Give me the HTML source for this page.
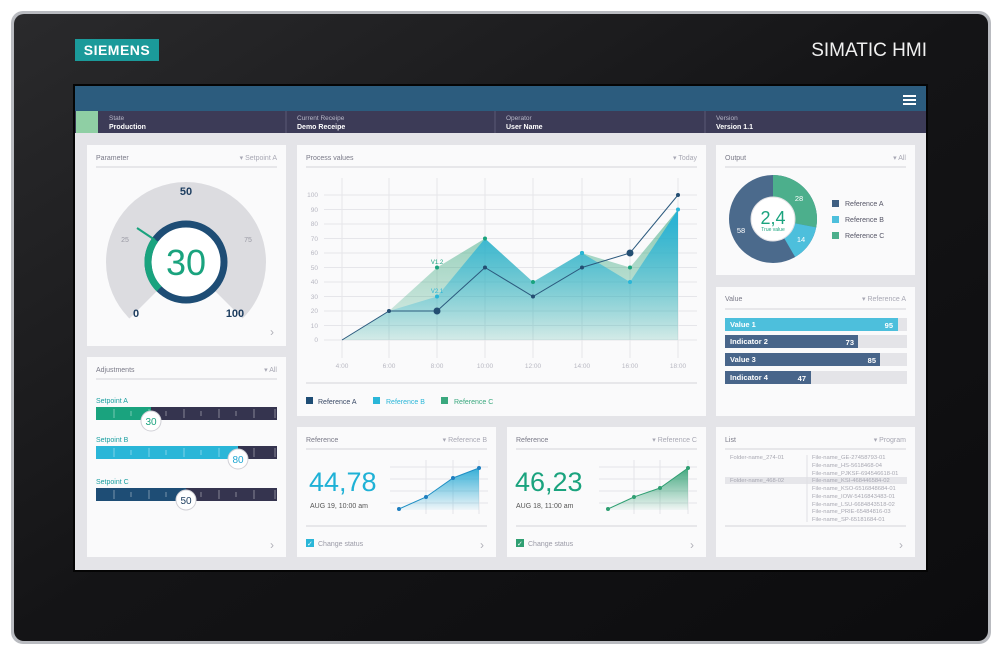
<!DOCTYPE html>
<html><head><meta charset="utf-8"><style>
html,body{margin:0;padding:0;background:#fff;width:1000px;height:656px;overflow:hidden}
svg{display:block;font-family:"Liberation Sans",sans-serif}
</style></head><body>
<svg width="1000" height="656" viewBox="0 0 1000 656" xmlns="http://www.w3.org/2000/svg">
<defs>
<linearGradient id="bez" x1="0" y1="0" x2="1" y2="1">
<stop offset="0" stop-color="#2a2a2c"/><stop offset="0.5" stop-color="#141416"/><stop offset="1" stop-color="#0c0c0e"/></linearGradient>
<linearGradient id="gB" x1="0" y1="0" x2="0" y2="1"><stop offset="0" stop-color="#1fb0d8" stop-opacity="0.95"/><stop offset="1" stop-color="#1fb0d8" stop-opacity="0.05"/></linearGradient>
<linearGradient id="gC" x1="0" y1="0" x2="0" y2="1"><stop offset="0" stop-color="#3aa87e" stop-opacity="0.6"/><stop offset="1" stop-color="#3aa87e" stop-opacity="0.15"/></linearGradient>
<linearGradient id="mB" x1="0" y1="0" x2="0" y2="1"><stop offset="0" stop-color="#1fa6d2" stop-opacity="0.9"/><stop offset="1" stop-color="#1fa6d2" stop-opacity="0.05"/></linearGradient>
<linearGradient id="mC" x1="0" y1="0" x2="0" y2="1"><stop offset="0" stop-color="#2f9f72" stop-opacity="0.9"/><stop offset="1" stop-color="#2f9f72" stop-opacity="0.05"/></linearGradient>
</defs>
<rect x="11" y="11" width="980" height="633" rx="12" fill="#b9bbc0"/>
<rect x="14" y="14" width="974" height="627" rx="10" fill="url(#bez)"/>
<rect x="73" y="84" width="855" height="488" fill="#050505"/>
<rect x="75" y="39" width="84" height="22" fill="#1b9a9a"/>
<text x="117" y="55" text-anchor="middle" fill="#fff" font-size="14" font-weight="bold" letter-spacing="0.5">SIEMENS</text>
<text x="927" y="56" text-anchor="end" fill="#f0f0f0" font-size="19">SIMATIC HMI</text>
<rect x="75" y="86" width="851" height="484" fill="#e4e4e8"/>
<rect x="75" y="86" width="851" height="25" fill="#2c5c7e"/>
<g fill="#fff"><rect x="903" y="95" width="13" height="2"/><rect x="903" y="99" width="13" height="2"/><rect x="903" y="103" width="13" height="2"/></g>
<rect x="75" y="111" width="851" height="22" fill="#3c3b57"/>
<rect x="76" y="111" width="22" height="22" fill="#8fcfa4"/>
<g stroke="#5a5a75" stroke-width="1"><line x1="286" y1="111" x2="286" y2="133"/><line x1="495" y1="111" x2="495" y2="133"/><line x1="705" y1="111" x2="705" y2="133"/></g>
<g font-size="6.5" fill="#b8b8c8"><text x="109" y="120">State</text><text x="297" y="120">Current Receipe</text><text x="506" y="120">Operator</text><text x="716" y="120">Version</text></g>
<g font-size="7" fill="#fff" font-weight="bold"><text x="109" y="129">Production</text><text x="297" y="129">Demo Receipe</text><text x="506" y="129">User Name</text><text x="716" y="129">Version 1.1</text></g>
<g fill="#fafafb">
<rect x="87" y="145" width="199" height="201"/>
<rect x="87" y="357" width="199" height="200"/>
<rect x="297" y="145" width="409" height="271"/>
<rect x="297" y="427" width="199" height="130"/>
<rect x="507" y="427" width="199" height="130"/>
<rect x="716" y="145" width="199" height="130"/>
<rect x="716" y="287" width="199" height="129"/>
<rect x="716" y="427" width="199" height="130"/>
</g>
<g stroke="#d4d4da" stroke-width="1">
<line x1="96" y1="167" x2="277" y2="167"/><line x1="96" y1="379" x2="277" y2="379"/>
<line x1="306" y1="167" x2="697" y2="167"/><line x1="306" y1="383" x2="697" y2="383"/>
<line x1="306" y1="449" x2="487" y2="449"/><line x1="306" y1="526" x2="487" y2="526"/>
<line x1="516" y1="449" x2="697" y2="449"/><line x1="516" y1="526" x2="697" y2="526"/>
<line x1="725" y1="167" x2="906" y2="167"/><line x1="725" y1="309" x2="906" y2="309"/>
<line x1="725" y1="449" x2="906" y2="449"/><line x1="725" y1="526" x2="906" y2="526"/>
</g>
<g font-size="7" fill="#7a7a88">
<text x="96" y="160">Parameter</text><text x="96" y="372">Adjustments</text><text x="306" y="160">Process values</text>
<text x="306" y="442">Reference</text><text x="516" y="442">Reference</text>
<text x="725" y="160">Output</text><text x="725" y="301">Value</text><text x="725" y="442">List</text>
</g>
<g font-size="7" fill="#a8a8b4" text-anchor="end">
<text x="277" y="160">▾ Setpoint A</text><text x="277" y="372">▾ All</text><text x="697" y="160">▾ Today</text>
<text x="487" y="442">▾ Reference B</text><text x="697" y="442">▾ Reference C</text>
<text x="906" y="160">▾ All</text><text x="906" y="301">▾ Reference A</text><text x="906" y="442">▾ Program</text>
</g>
<g font-size="12" fill="#b0b0b8"><text x="270" y="336">›</text><text x="270" y="549">›</text><text x="480" y="549">›</text><text x="690" y="549">›</text><text x="899" y="549">›</text></g>
<path d="M143.6,304.4 A60,60 0 1 1 228.4,304.4" fill="none" stroke="#dcdce0" stroke-width="40"/>
<circle cx="186" cy="262" r="38" fill="#fff" stroke="#1e4d75" stroke-width="7"/>
<path d="M159.1,288.9 A38,38 0 0 1 155.3,239.7" fill="none" stroke="#1aa37e" stroke-width="7"/>
<line x1="155" y1="240" x2="137" y2="228" stroke="#1aa37e" stroke-width="2"/>
<text x="186" y="275" text-anchor="middle" font-size="36" fill="#1aa37e">30</text>
<g font-weight="bold" fill="#1e3e60" font-size="11" text-anchor="middle"><text x="186" y="195">50</text><text x="136" y="317">0</text><text x="235" y="317">100</text></g>
<g fill="#9a9aa4" font-size="7" text-anchor="middle"><text x="125" y="242">25</text><text x="248" y="242">75</text></g>
<g font-size="7" fill="#1a9fa0"><text x="96" y="403">Setpoint A</text><text x="96" y="442">Setpoint B</text><text x="96" y="484">Setpoint C</text></g>
<rect x="96" y="407" width="181" height="13" fill="#35344f"/><rect x="96" y="407" width="55" height="13" fill="#1aa37e"/>
<rect x="96" y="446" width="181" height="13" fill="#35344f"/><rect x="96" y="446" width="142" height="13" fill="#2ab6d8"/>
<rect x="96" y="488" width="181" height="13" fill="#35344f"/><rect x="96" y="488" width="90" height="13" fill="#1e4d75"/>
<g stroke="#ffffff" stroke-opacity="0.5" stroke-width="0.8">
<path d="M114,409v9M131,411v5M149,409v9M166,411v5M184,409v9M201,411v5M219,409v9M236,411v5M254,409v9M275,409v9"/>
<path d="M114,448v9M131,450v5M149,448v9M166,450v5M184,448v9M201,450v5M219,448v9M236,450v5M254,448v9M275,448v9"/>
<path d="M114,490v9M131,492v5M149,490v9M166,492v5M184,490v9M201,492v5M219,490v9M236,492v5M254,490v9M275,490v9"/>
</g>
<g fill="#fff" stroke="#d0d0d6"><circle cx="151" cy="421" r="10"/><circle cx="238" cy="459" r="10"/><circle cx="186" cy="500" r="10"/></g>
<g font-size="10" text-anchor="middle"><text x="151" y="425" fill="#1aa37e">30</text><text x="238" y="463" fill="#1fa6d2">80</text><text x="186" y="504" fill="#1e3e60">50</text></g>
<g stroke="#e6e6ea" stroke-width="1">
<line x1="324" y1="195" x2="697" y2="195"/><line x1="324" y1="209.5" x2="697" y2="209.5"/><line x1="324" y1="224" x2="697" y2="224"/><line x1="324" y1="238.5" x2="697" y2="238.5"/><line x1="324" y1="253" x2="697" y2="253"/><line x1="324" y1="267.5" x2="697" y2="267.5"/><line x1="324" y1="282" x2="697" y2="282"/><line x1="324" y1="296.5" x2="697" y2="296.5"/><line x1="324" y1="311" x2="697" y2="311"/><line x1="324" y1="325.5" x2="697" y2="325.5"/><line x1="324" y1="340" x2="697" y2="340"/>
<line x1="342" y1="178" x2="342" y2="358"/><line x1="389" y1="178" x2="389" y2="358"/><line x1="437" y1="178" x2="437" y2="358"/><line x1="485" y1="178" x2="485" y2="358"/><line x1="533" y1="178" x2="533" y2="358"/><line x1="582" y1="178" x2="582" y2="358"/><line x1="630" y1="178" x2="630" y2="358"/><line x1="678" y1="178" x2="678" y2="358"/>
</g>
<g font-size="6.5" fill="#b8b8c2" text-anchor="end">
<text x="318" y="197">100</text><text x="318" y="212">90</text><text x="318" y="226">80</text><text x="318" y="241">70</text><text x="318" y="255">60</text><text x="318" y="270">50</text><text x="318" y="284">40</text><text x="318" y="299">30</text><text x="318" y="313">20</text><text x="318" y="328">10</text><text x="318" y="342">0</text></g>
<g font-size="6.5" fill="#b8b8c2" text-anchor="middle"><text x="342" y="368">4:00</text><text x="389" y="368">6:00</text><text x="437" y="368">8:00</text><text x="485" y="368">10:00</text><text x="533" y="368">12:00</text><text x="582" y="368">14:00</text><text x="630" y="368">16:00</text><text x="678" y="368">18:00</text></g>
<path d="M342,340 L389,311 L437,267.5 L485,238.5 L533,282 L582,253 L630,267.5 L678,209.5 L678,340 Z" fill="url(#gC)"/>
<path d="M342,340 L389,311 L437,296.5 L485,238.5 L533,282 L582,253 L630,282 L678,209.5 L678,340 Z" fill="url(#gB)"/>
<polyline points="342,340 389,311 437,311 485,267.5 533,296.5 582,267.5 630,253 678,195" fill="none" stroke="#2c5a7e" stroke-width="1"/>
<g fill="#1aa37e"><circle cx="437" cy="267.5" r="2"/><circle cx="485" cy="238.5" r="2"/><circle cx="533" cy="282" r="2"/><circle cx="582" cy="253" r="2"/><circle cx="630" cy="267.5" r="2"/></g>
<g fill="#2ab6d8"><circle cx="437" cy="296.5" r="2"/><circle cx="582" cy="253" r="2"/><circle cx="630" cy="282" r="2"/><circle cx="678" cy="209.5" r="2"/></g>
<g fill="#244e72"><circle cx="389" cy="311" r="2"/><circle cx="437" cy="311" r="3.5"/><circle cx="485" cy="267.5" r="2"/><circle cx="533" cy="296.5" r="2"/><circle cx="582" cy="267.5" r="2"/><circle cx="630" cy="253" r="3.5"/><circle cx="678" cy="195" r="2"/></g>
<text x="437" y="264" font-size="6" fill="#1aa37e" text-anchor="middle">V1.2</text>
<text x="437" y="293" font-size="6" fill="#2ab6d8" text-anchor="middle">V2.1</text>
<rect x="306" y="397" width="7" height="7" fill="#1e4d75"/><text x="318" y="404" font-size="7" fill="#3a4a66">Reference A</text>
<rect x="373" y="397" width="7" height="7" fill="#2ab6d8"/><text x="386" y="404" font-size="7" fill="#2ab6d8">Reference B</text>
<rect x="441" y="397" width="7" height="7" fill="#3aa87e"/><text x="454" y="404" font-size="7" fill="#3aa87e">Reference C</text>
<text x="309" y="491" font-size="27" fill="#1fb1d6">44,78</text>
<text x="310" y="508" font-size="7" fill="#555">AUG 19, 10:00 am</text>
<g stroke="#e4e4e8"><line x1="390" y1="467" x2="488" y2="467"/><line x1="390" y1="479" x2="488" y2="479"/><line x1="390" y1="491" x2="488" y2="491"/><line x1="390" y1="503" x2="488" y2="503"/><line x1="426" y1="460" x2="426" y2="514"/><line x1="453" y1="460" x2="453" y2="514"/><line x1="479" y1="460" x2="479" y2="514"/></g>
<path d="M399,509 L426,497 L453,478 L479,468 L479,510 L399,510Z" fill="url(#mB)"/>
<polyline points="399,509 426,497 453,478 479,468" fill="none" stroke="#1f8fc4" stroke-width="1"/>
<g fill="#1f7fc0"><circle cx="399" cy="509" r="2"/><circle cx="426" cy="497" r="2"/><circle cx="453" cy="478" r="2"/><circle cx="479" cy="468" r="2"/></g>
<rect x="306" y="539" width="8" height="8" fill="#2ab6d8"/><text x="307" y="546" font-size="7" fill="#fff">✓</text><text x="318" y="546" font-size="7" fill="#9a9aa6">Change status</text>
<text x="515" y="491" font-size="27" fill="#1aa37e">46,23</text>
<text x="516" y="508" font-size="7" fill="#555">AUG 18, 11:00 am</text>
<g stroke="#e4e4e8"><line x1="599" y1="467" x2="697" y2="467"/><line x1="599" y1="479" x2="697" y2="479"/><line x1="599" y1="491" x2="697" y2="491"/><line x1="599" y1="503" x2="697" y2="503"/><line x1="634" y1="460" x2="634" y2="514"/><line x1="660" y1="460" x2="660" y2="514"/><line x1="688" y1="460" x2="688" y2="514"/></g>
<path d="M608,509 L634,497 L660,488 L688,468 L688,510 L608,510Z" fill="url(#mC)"/>
<polyline points="608,509 634,497 660,488 688,468" fill="none" stroke="#2f9f72" stroke-width="1"/>
<g fill="#2f9f72"><circle cx="608" cy="509" r="2"/><circle cx="634" cy="497" r="2"/><circle cx="660" cy="488" r="2"/><circle cx="688" cy="468" r="2"/></g>
<rect x="516" y="539" width="8" height="8" fill="#2f9f72"/><text x="517" y="546" font-size="7" fill="#fff">✓</text><text x="528" y="546" font-size="7" fill="#9a9aa6">Change status</text>
<circle cx="773" cy="219" r="33" fill="none" stroke="#4b6a8c" stroke-width="22"/>
<path d="M773,186 A33,33 0 0 1 805.4,225.3" fill="none" stroke="#4caf8c" stroke-width="22"/>
<path d="M805.4,225.3 A33,33 0 0 1 789.6,247.5" fill="none" stroke="#4dbfdc" stroke-width="22"/>
<circle cx="773" cy="219" r="22" fill="#fff" stroke="#e0e0e4"/>
<text x="773" y="224" text-anchor="middle" font-size="18" fill="#1aa37e">2,4</text>
<text x="773" y="231" text-anchor="middle" font-size="5" fill="#1aa37e">True value</text>
<g font-size="7.5" fill="#fff" text-anchor="middle"><text x="741" y="233">58</text><text x="799" y="201">28</text><text x="801" y="242">14</text></g>
<rect x="832" y="200" width="7" height="7" fill="#3f5f82"/><text x="845" y="206" font-size="7" fill="#556">Reference A</text>
<rect x="832" y="216" width="7" height="7" fill="#4dbfdc"/><text x="845" y="222" font-size="7" fill="#556">Reference B</text>
<rect x="832" y="232" width="7" height="7" fill="#4caf8c"/><text x="845" y="238" font-size="7" fill="#556">Reference C</text>
<g fill="#e4e4e8"><rect x="725" y="318" width="182" height="13"/><rect x="725" y="335" width="182" height="13"/><rect x="725" y="353" width="182" height="13"/><rect x="725" y="371" width="182" height="13"/></g>
<rect x="725" y="318" width="173" height="13" fill="#4dbfdc"/>
<rect x="725" y="335" width="133" height="13" fill="#48658a"/>
<rect x="725" y="353" width="155" height="13" fill="#48658a"/>
<rect x="725" y="371" width="86" height="13" fill="#48658a"/>
<g font-size="7.5" fill="#fff" font-weight="bold"><text x="730" y="327">Value 1</text><text x="730" y="344">Indicator 2</text><text x="730" y="362">Value 3</text><text x="730" y="380">Indicator 4</text>
<text x="893" y="328" text-anchor="end">95</text><text x="854" y="345" text-anchor="end">73</text><text x="876" y="363" text-anchor="end">85</text><text x="806" y="381" text-anchor="end">47</text></g>
<rect x="725" y="477" width="182" height="7" fill="#e6e6ea"/>
<line x1="807" y1="455" x2="807" y2="522" stroke="#e0e0e4"/>
<g font-size="5.8" fill="#a8a8b2"><text x="730" y="459">Folder-name_274-01</text><text x="730" y="482">Folder-name_468-02</text>
<text x="812" y="459">File-name_GE-27458793-01</text><text x="812" y="467">File-name_HS-5618468-04</text><text x="812" y="475">File-name_PJKSF-694546618-01</text><text x="812" y="482">File-name_KSI-468446584-02</text><text x="812" y="490">File-name_KSO-6516848684-01</text><text x="812" y="498">File-name_IOW-5416843483-01</text><text x="812" y="506">File-name_LSU-6684843518-02</text><text x="812" y="513">File-name_PRIE-65484816-03</text><text x="812" y="521">File-name_SP-65181684-01</text></g>
</svg>
</body></html>
